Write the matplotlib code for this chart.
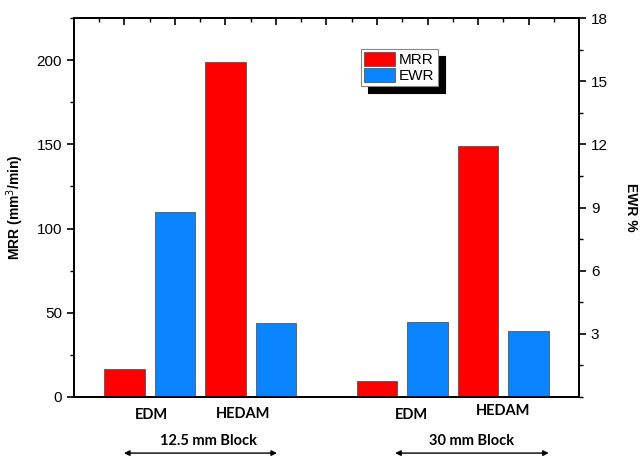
import numpy as np
import matplotlib
matplotlib.use('Agg')
import matplotlib.pyplot as plt
import matplotlib.patches as mpatches
from matplotlib.ticker import MultipleLocator
import matplotlib.transforms as mtrans

plt.rcParams['font.family'] = ['Liberation Sans', 'DejaVu Sans']

# data
groups = ['12.5 mm Block', '30 mm Block']
processes = ['EDM', 'HEDAM', 'EDM', 'HEDAM']
mrr = [16.6, 199, 9.5, 149]      # mm3/min
ewr = [8.78, 3.51, 3.56, 3.13]   # %

mrr_x = [1, 3, 6, 8]
ewr_x = [2, 4, 7, 9]

red = '#ff0000'
blue = '#0a84ff'

fig = plt.figure(figsize=(6.41, 4.57), dpi=100)
ax = fig.add_axes([0.1154, 0.1313, 0.7879, 0.8293])
ax2 = ax.twinx()

ax.bar(mrr_x, mrr, width=0.8, color=red, edgecolor='#555555', lw=0.6, label='MRR')
ax2.bar(ewr_x, ewr, width=0.8, color=blue, edgecolor='#555555', lw=0.6, label='EWR')

ax.set_xlim(0, 10)
ax.set_ylim(0, 225)
ax2.set_ylim(0, 18)

ax.yaxis.set_major_locator(MultipleLocator(50))
ax.yaxis.set_minor_locator(MultipleLocator(25))
ax2.yaxis.set_major_locator(MultipleLocator(3))
ax2.yaxis.set_minor_locator(MultipleLocator(1.5))
ax2.set_yticks([3, 6, 9, 12, 15, 18])

ax.tick_params(axis='y', which='major', direction='out', length=5, width=1.2, labelsize=11)
ax.tick_params(axis='y', which='minor', direction='out', length=3, width=1.0)
ax2.tick_params(axis='y', which='major', direction='out', length=5, width=1.2, labelsize=11)
ax2.tick_params(axis='y', which='minor', direction='out', length=3, width=1.0)

# top ticks only
ax.xaxis.set_major_locator(MultipleLocator(1))
ax.xaxis.set_minor_locator(MultipleLocator(0.5))
ax.tick_params(axis='x', which='both', bottom=False, top=True, labelbottom=False,
               direction='in')
ax.tick_params(axis='x', which='major', length=5, width=1.2)
ax.tick_params(axis='x', which='minor', length=3, width=1.0)

for a in (ax, ax2):
    for s in a.spines.values():
        s.set_linewidth(1.3)

ax.set_ylabel('MRR (mm$^3$/min)', fontsize=10, fontweight='bold', labelpad=8)
ax2.set_ylabel('EWR %', fontsize=10, fontweight='bold', rotation=270, labelpad=22)

# category labels under the axis
trans = mtrans.blended_transform_factory(ax.transData, ax.transAxes)
lab_x = [1.54, 3.35, 6.69, 8.5]
lab_y = [-0.047, -0.045, -0.047, -0.037]
for x, y, t in zip(lab_x, lab_y, processes):
    ax.text(x, y, t, transform=trans, ha='center', va='center', fontsize=10.5,
            fontweight='bold', family=['Lato', 'DejaVu Sans'])

blk_x = [2.67, 7.88]
for x, t in zip(blk_x, groups):
    ax.text(x, -0.116, t, transform=trans, ha='center', va='center', fontsize=10.5,
            fontweight='bold', family=['Lato', 'DejaVu Sans'])

arrows = [(0.99, 4.02), (6.36, 9.4)]
for x0, x1 in arrows:
    ax.annotate('', xy=(x0, -0.148), xytext=(x1, -0.148), xycoords=trans, textcoords=trans,
                arrowprops=dict(arrowstyle='<|-|>', color='black', lw=1.0,
                                mutation_scale=8, shrinkA=0, shrinkB=0),
                annotation_clip=False)

# legend with black shadow
h = [mpatches.Patch(facecolor=red, edgecolor='#555555', lw=0.6),
     mpatches.Patch(facecolor=blue, edgecolor='#555555', lw=0.6)]
leg = ax2.legend(h, ['MRR', 'EWR'], loc='upper left',
                 bbox_to_anchor=(361 / 641, 1 - 49 / 457), bbox_transform=fig.transFigure,
                 fancybox=False, frameon=True, edgecolor='#888888', framealpha=1,
                 shadow={'color': 'black', 'alpha': 1, 'ox': 5, 'oy': -5},
                 fontsize=11, handlelength=2.0, handleheight=1.0, handletextpad=0.3,
                 labelspacing=0.05, borderpad=0.2, borderaxespad=0)
leg.get_frame().set_linewidth(0.8)

fig.savefig('out.png', dpi=100)
